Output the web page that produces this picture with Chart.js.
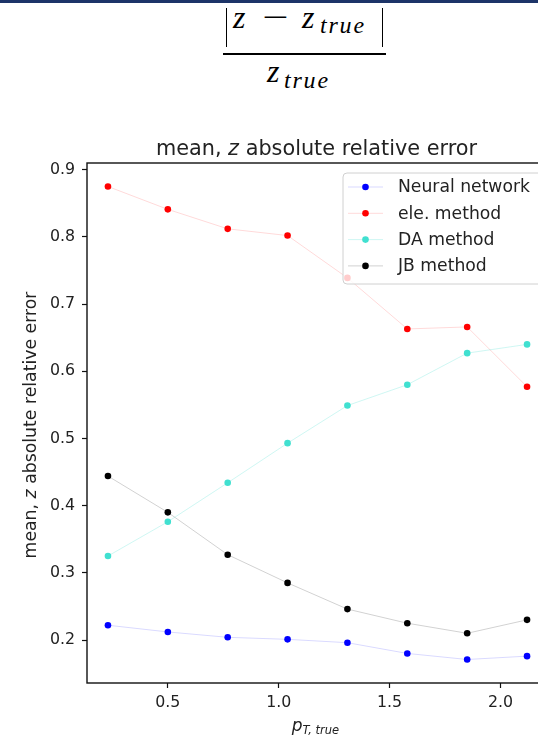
<!DOCTYPE html>
<html>
<head>
<meta charset="utf-8">
<script src="https://cdn.jsdelivr.net/npm/chart.js@4.4.0/dist/chart.umd.min.js"></script>
<style>
  html, body { margin: 0; padding: 0; background: #fff; overflow: hidden; }
  body { width: 538px; height: 735px; position: relative; }
  .topbar { position: absolute; left: 0; top: 0; width: 538px; height: 3px; background: #1d3468; }
  .eq { position: absolute; font-family: "Liberation Serif", serif; font-style: italic; color: #000; white-space: nowrap; }
  .m { font-size: 32px; line-height: 31px; }
  .s { font-size: 24px; line-height: 23px; letter-spacing: 1.8px; }
  .minus { font-style: normal; transform: scaleX(1.45); transform-origin: left center; }
  .bars { position: absolute; left: 226px; top: 8px; width: 157px; height: 39px; box-sizing: border-box;
          border-left: 1.6px solid #000; border-right: 1.6px solid #000; }
  .rule { position: absolute; left: 223px; top: 53px; width: 163px; height: 1.6px; background: #000; }
  #plot { position: absolute; left: 0; top: 130px; }
</style>
</head>
<body>
<div class="topbar"></div>
<!-- |z - z_true| / z_true -->
<div class="bars"></div>
<span class="eq m" style="left:233px; top:2px">z</span>
<span class="eq m minus" style="left:262px; top:2px">−</span>
<span class="eq m" style="left:302px; top:2px">z</span>
<span class="eq s" style="left:320px; top:14px">true</span>
<div class="rule"></div>
<span class="eq m" style="left:267px; top:56px">z</span>
<span class="eq s" style="left:284px; top:69px">true</span>
<canvas id="plot" width="560" height="605"></canvas>
<script>
const pT = [0.23, 0.5, 0.77, 1.04, 1.31, 1.58, 1.85, 2.12];
const neuralNetwork = [0.222, 0.212, 0.204, 0.201, 0.196, 0.180, 0.171, 0.176];
const eleMethod = [0.875, 0.841, 0.812, 0.802, 0.739, 0.663, 0.666, 0.577];
const daMethod = [0.325, 0.376, 0.434, 0.493, 0.549, 0.580, 0.627, 0.640];
const jbMethod = [0.444, 0.390, 0.327, 0.285, 0.246, 0.225, 0.210, 0.230];
const seriesLabels = ["Neural network", "ele. method", "DA method", "JB method"];
const xTicks = [0.5, 1.0, 1.5, 2.0];
const yTicks = [0.2, 0.3, 0.4, 0.5, 0.6, 0.7, 0.8, 0.9];

const FONT = "DejaVu Sans";
const TEXT = "#222";

function series(label, values, dot, line) {
  return {
    label: label,
    data: values.map((v, i) => ({ x: pT[i], y: v })),
    borderColor: line,
    backgroundColor: dot,
    pointBackgroundColor: dot,
    pointBorderWidth: 0,
    pointRadius: 3.3,
    borderWidth: 1,
    tension: 0,
  };
}

// title, axis labels, frame and legend are drawn on top of the chart
const decorations = {
  id: "decorations",
  afterDraw(chart) {
    const ctx = chart.ctx;
    const a = chart.chartArea;
    ctx.save();

    // frame
    ctx.strokeStyle = "#111";
    ctx.lineWidth = 1.4;
    ctx.strokeRect(a.left, a.top, a.right - a.left, a.bottom - a.top);

    // mixed-style text helper
    function drawRuns(runs, cx, cy) {
      let total = 0;
      runs.forEach((r) => { ctx.font = r.font; r.w = ctx.measureText(r.text).width; total += r.w; });
      let x = cx - total / 2;
      ctx.textAlign = "left";
      ctx.textBaseline = "alphabetic";
      runs.forEach((r) => { ctx.font = r.font; ctx.fillText(r.text, x, cy + (r.dy || 0)); x += r.w; });
    }

    ctx.fillStyle = TEXT;
    const cx = (a.left + a.right) / 2;

    // title
    drawRuns([
      { text: "mean, ", font: `20.8px "${FONT}"` },
      { text: "z", font: `italic 20.8px "${FONT}"` },
      { text: " absolute relative error", font: `20.8px "${FONT}"` },
    ], cx - 1, 24.5);

    // y axis title
    ctx.save();
    ctx.translate(36, (a.top + a.bottom) / 2 + 2);
    ctx.rotate(-Math.PI / 2);
    drawRuns([
      { text: "mean, ", font: `17.3px "${FONT}"` },
      { text: "z", font: `italic 17.3px "${FONT}"` },
      { text: " absolute relative error", font: `17.3px "${FONT}"` },
    ], 0, 0);
    ctx.restore();

    // x axis title
    drawRuns([
      { text: "p", font: `italic 17px "${FONT}"` },
      { text: "T, true", font: `italic 11.5px "${FONT}"`, dy: 3 },
    ], cx - 2, 601);

    // legend
    const lx = 343, ly = 43, lw = 200, lh = 111, r = 4;
    ctx.beginPath();
    ctx.moveTo(lx + r, ly);
    ctx.lineTo(lx + lw - r, ly);
    ctx.arcTo(lx + lw, ly, lx + lw, ly + r, r);
    ctx.lineTo(lx + lw, ly + lh - r);
    ctx.arcTo(lx + lw, ly + lh, lx + lw - r, ly + lh, r);
    ctx.lineTo(lx + r, ly + lh);
    ctx.arcTo(lx, ly + lh, lx, ly + lh - r, r);
    ctx.lineTo(lx, ly + r);
    ctx.arcTo(lx, ly, lx + r, ly, r);
    ctx.closePath();
    ctx.fillStyle = "rgba(255,255,255,0.8)";
    ctx.fill();
    ctx.strokeStyle = "#d0d0d0";
    ctx.lineWidth = 1;
    ctx.stroke();

    chart.data.datasets.forEach((ds, i) => {
      const y = ly + 14 + i * 26.3;
      ctx.strokeStyle = ds.borderColor;
      ctx.lineWidth = 1;
      ctx.beginPath();
      ctx.moveTo(348, y);
      ctx.lineTo(383, y);
      ctx.stroke();
      ctx.fillStyle = ds.pointBackgroundColor;
      ctx.beginPath();
      ctx.arc(365.5, y, 3.3, 0, Math.PI * 2);
      ctx.fill();
      ctx.fillStyle = TEXT;
      ctx.font = `17.2px "${FONT}"`;
      ctx.textAlign = "left";
      ctx.textBaseline = "middle";
      ctx.fillText(ds.label, 398, y + 1);
    });

    ctx.restore();
  },
};

function axisStyle(ticks, fmt, padding) {
  return {
    type: "linear",
    afterBuildTicks: (s) => { s.ticks = ticks.map((v) => ({ value: v })); },
    ticks: {
      autoSkip: false,
      maxRotation: 0,
      padding: padding,
      color: TEXT,
      font: { family: FONT, size: 15.8 },
      callback: fmt,
    },
    grid: {
      display: true,
      drawOnChartArea: false,
      drawTicks: true,
      tickLength: 5,
      tickColor: "#111",
      tickWidth: 1.2,
    },
    border: { display: false },
  };
}

const xScale = axisStyle(xTicks, (v) => v.toFixed(1), 5);
xScale.min = 0.1355;
xScale.max = 2.2145;
xScale.afterFit = (s) => { s.height = 52; };

const yScale = axisStyle(yTicks, (v) => v.toFixed(1), 7);
yScale.min = 0.136;
yScale.max = 0.910;
yScale.afterFit = (s) => { s.width = 87; };

new Chart(document.getElementById("plot").getContext("2d"), {
  type: "line",
  data: {
    datasets: [
      series(seriesLabels[0], neuralNetwork, "#0000ff", "rgba(0,0,255,0.15)"),
      series(seriesLabels[1], eleMethod, "#ff0000", "rgba(255,0,0,0.15)"),
      series(seriesLabels[2], daMethod, "#40e0d0", "rgba(64,224,208,0.25)"),
      series(seriesLabels[3], jbMethod, "#000000", "rgba(0,0,0,0.18)"),
    ],
  },
  options: {
    responsive: false,
    animation: false,
    layout: { padding: { top: 33, left: 0, right: 12, bottom: 0 } },
    scales: { x: xScale, y: yScale },
    plugins: {
      legend: { display: false },
      title: { display: false },
      tooltip: { enabled: false },
    },
  },
  plugins: [decorations],
});
</script>
</body>
</html>
